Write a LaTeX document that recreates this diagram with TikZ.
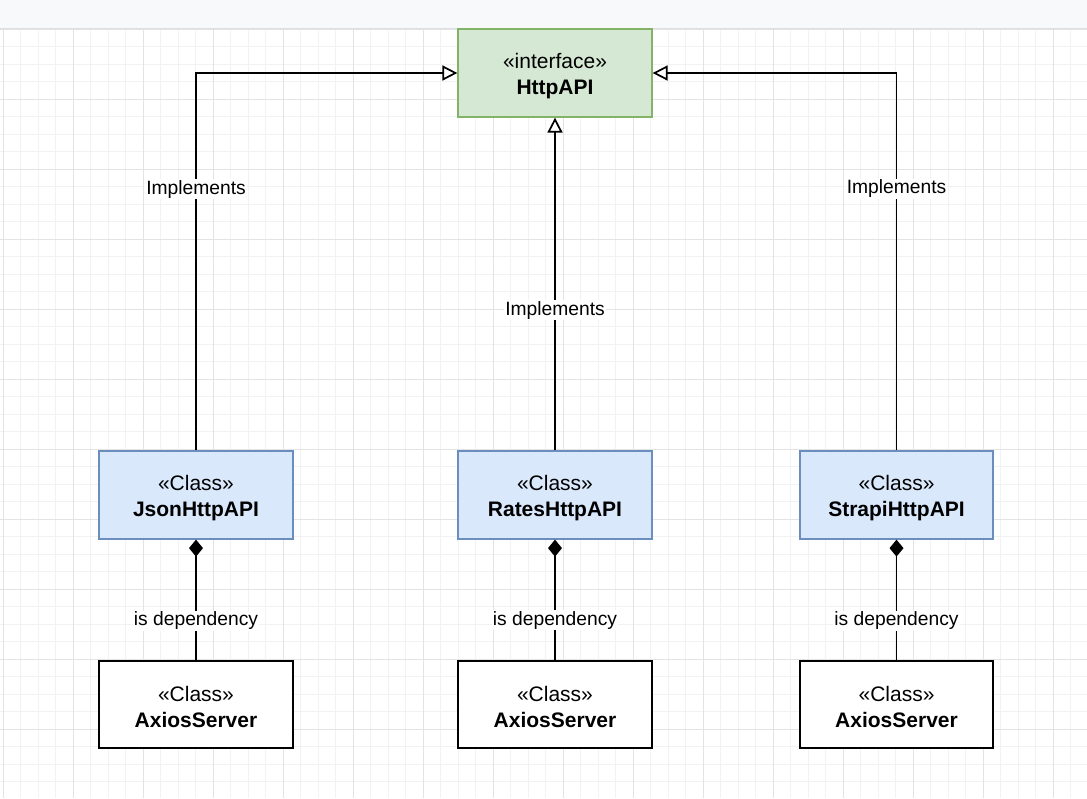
\documentclass[tikz,border=0pt]{standalone}
\usepackage{fontspec}
\setmainfont{Liberation Sans}
\usetikzlibrary{arrows.meta}
\definecolor{gridminor}{HTML}{F2F2F2}
\definecolor{gridmajor}{HTML}{E3E3E3}
\definecolor{barfill}{HTML}{F8F9FA}
\definecolor{barline}{HTML}{DDDFE2}
\definecolor{ifill}{HTML}{D5E8D4}
\definecolor{idraw}{HTML}{82B366}
\definecolor{cfill}{HTML}{DAE8FC}
\definecolor{cdraw}{HTML}{6C8EBF}
\newcommand{\toprule}{\rule{0pt}{21pt}}
\tikzset{
  box/.style={rectangle, line width=1.75pt, minimum width=193.5pt, minimum height=87.5pt,
    align=center, inner sep=0pt, font=\fontsize{21}{26}\selectfont},
  ibox/.style={box, fill=ifill, draw=idraw},
  cbox/.style={box, fill=cfill, draw=cdraw},
  pbox/.style={box, fill=white, draw=black},
  impl/.style={line width=1.75pt, -{Triangle[open, length=15pt, width=15pt, fill=white]}},
  dep/.style={line width=1.75pt, -{Diamond[length=17pt, width=14pt, fill=black]}},
  lbl/.style={fill=white, inner sep=1pt, yshift=-2.5pt, font=\fontsize{19.25}{22}\selectfont}
}
\begin{document}
\begin{tikzpicture}[x=1pt, y=-1pt]
\useasboundingbox (0,0) rectangle (1087,798);
\fill[white] (0,0) rectangle (1087,798);
% grid
\foreach \k in {0,...,62} {
  \draw[gridminor, line width=1pt] ({3.3+17.5*\k},29) -- ({3.3+17.5*\k},798);
}
\foreach \k in {0,...,44} {
  \draw[gridminor, line width=1pt] (0,{29.3+17.5*\k}) -- (1087,{29.3+17.5*\k});
}
\foreach \k in {0,...,15} {
  \draw[gridmajor, line width=1pt] ({3.3+70*\k},29) -- ({3.3+70*\k},798);
}
\foreach \k in {0,...,11} {
  \draw[gridmajor, line width=1pt] (0,{29.3+70*\k}) -- (1087,{29.3+70*\k});
}
% top bar
\fill[barfill] (0,0) rectangle (1087,28);
\draw[barline, line width=1pt] (0,28) -- (1087,28);

% nodes
\node[ibox] (api) at (555,73) {\toprule«interface»\\\textbf{HttpAPI}};
\node[cbox] (json) at (196,495) {\toprule«Class»\\\textbf{JsonHttpAPI}};
\node[cbox] (rates) at (555,495) {\toprule«Class»\\\textbf{RatesHttpAPI}};
\node[cbox] (strapi) at (896.5,495) {\toprule«Class»\\\textbf{StrapiHttpAPI}};
\node[pbox] (ax1) at (196,704.5) {\toprule«Class»\\\textbf{AxiosServer}};
\node[pbox] (ax2) at (555,704.5) {\toprule«Class»\\\textbf{AxiosServer}};
\node[pbox] (ax3) at (896.5,704.5) {\toprule«Class»\\\textbf{AxiosServer}};

% implements
\draw[impl] (json.north) |- node[lbl, pos=0.349] {Implements} (api.west);
\draw[impl] (rates.north) -- node[lbl, pos=0.428] {Implements} (api.south);
\draw[impl] (strapi.north) |- node[lbl, pos=0.35] {Implements} (api.east);

% dependencies
\draw[dep] (ax1.north) -- node[lbl, pos=0.344] {is dependency} (json.south);
\draw[dep] (ax2.north) -- node[lbl, pos=0.35] {is dependency} (rates.south);
\draw[dep] (ax3.north) -- node[lbl, pos=0.344] {is dependency} (strapi.south);
\end{tikzpicture}
\end{document}
